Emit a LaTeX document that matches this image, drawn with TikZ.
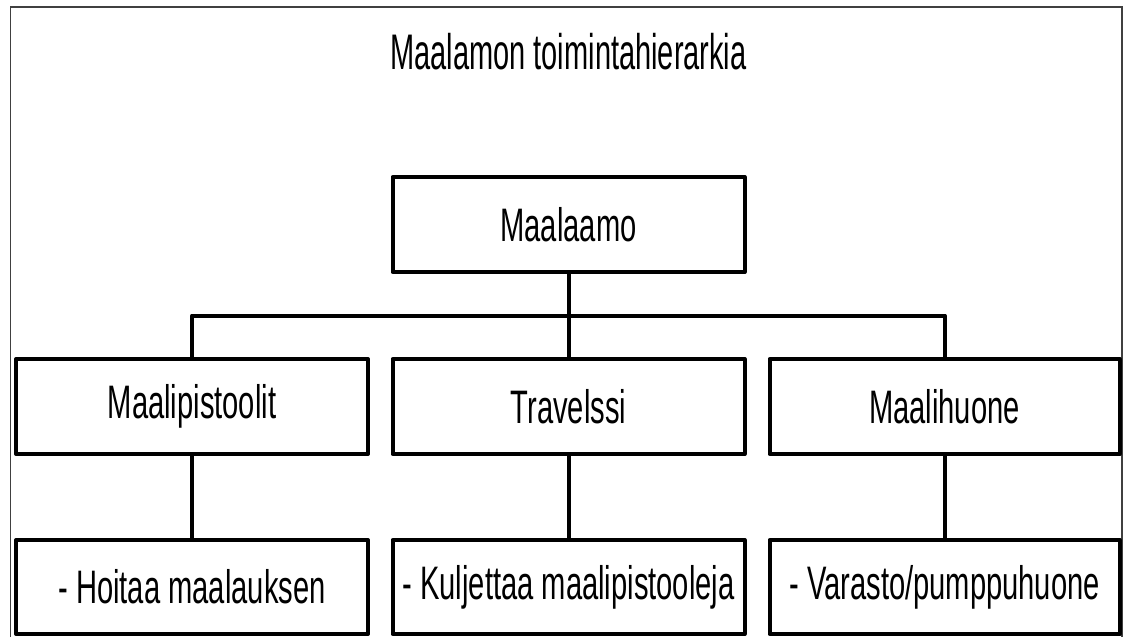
\documentclass[tikz,border=0pt]{standalone}
\usepackage{fontspec}
\newfontfamily\boxfont[FakeStretch=0.62]{Liberation Sans}
\newfontfamily\titlefont[FakeStretch=0.58]{Liberation Sans}
\begin{document}
\begin{tikzpicture}[x=1pt,y=-1pt,
  orgbox/.style={draw=black, line width=4pt, line join=round, rectangle,
    minimum width=352pt, minimum height=95pt, inner sep=0pt,
    font=\boxfont\fontsize{47}{50}\selectfont},
  link/.style={draw=black, line width=4pt},
  frame/.style={draw=black!75, line width=1.5pt}]
\useasboundingbox (0,0) rectangle (1128,637);
\fill[white] (0,0) rectangle (1128,637);
\draw[frame] (10.3,7) rectangle (1122,640);
\node[font=\titlefont\fontsize{50}{54}\selectfont, anchor=base] (title) at (568.5,69) {Maalamon toimintahierarkia};
\node[orgbox] (top) at (568.5,224.5) {Maalaamo};
\node[orgbox] (m1) at (192,406.5) {Maalipistoolit};
\node[orgbox] (m2) at (568.5,406.5) {Travelssi};
\node[orgbox, minimum width=350pt] (m3) at (944.5,406.5) {Maalihuone};
\node[orgbox, minimum height=94pt] (s1) at (192,587) {- Hoitaa maalauksen};
\node[orgbox, minimum height=94pt] (s2) at (568.5,587) {- Kuljettaa maalipistooleja};
\node[orgbox, minimum height=94pt, minimum width=350pt] (s3) at (944.5,587) {- Varasto/pumppuhuone};
\coordinate (busL) at (192,315.5);
\coordinate (busR) at (944.5,315.5);
\draw[link, line join=round] (m1.north) -- (busL) -- (busR) -- (m3.north);
\draw[link] (top.south) -- (m2.north);
\draw[link] (m1.south) -- (s1.north);
\draw[link] (m2.south) -- (s2.north);
\draw[link] (m3.south) -- (s3.north);
\end{tikzpicture}
\end{document}
